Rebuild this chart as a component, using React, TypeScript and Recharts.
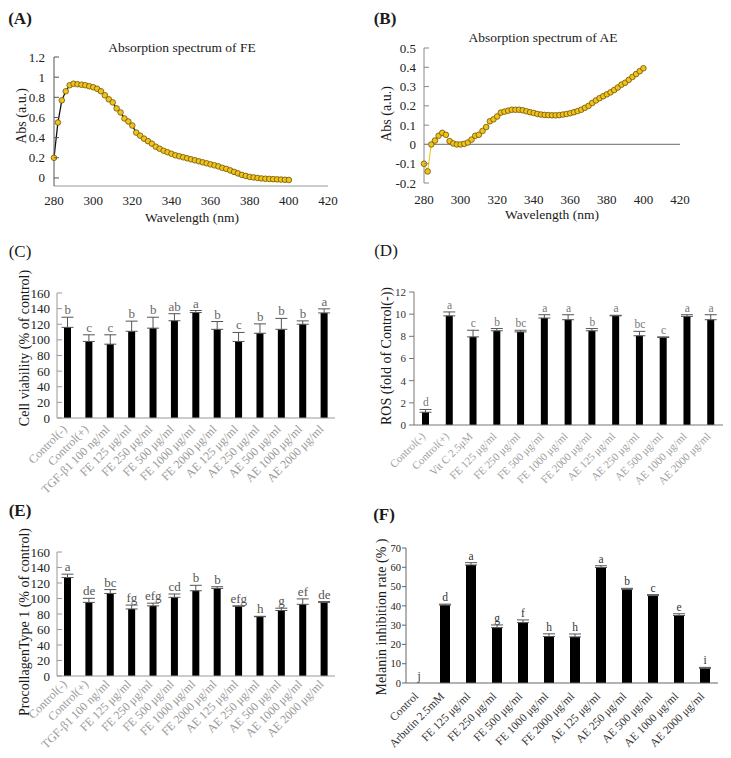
import React from 'react';
import {
  Bar,
  ComposedChart,
  ErrorBar,
  Line,
  LineChart,
  ReferenceLine,
  XAxis,
  YAxis,
} from 'recharts';

const FONT = '"Liberation Serif", "Times New Roman", Times, serif';

// ---- absorption spectra (A, B) ----
const WAVELENGTH = [
  280, 282, 284, 286, 288, 290, 292, 294, 296, 298, 300, 302, 304, 306, 308, 310,
  312, 314, 316, 318, 320, 322, 324, 326, 328, 330, 332, 334, 336, 338, 340, 342,
  344, 346, 348, 350, 352, 354, 356, 358, 360, 362, 364, 366, 368, 370, 372, 374,
  376, 378, 380, 382, 384, 386, 388, 390, 392, 394, 396, 398, 400,
];
const FE_ABS = [
  0.2, 0.55, 0.77, 0.86, 0.92, 0.935, 0.93, 0.925, 0.92, 0.91, 0.9, 0.885, 0.86, 0.82, 0.78, 0.75,
  0.69, 0.65, 0.59, 0.56, 0.52, 0.45, 0.42, 0.39, 0.365, 0.34, 0.31, 0.29, 0.27, 0.255, 0.24, 0.225,
  0.215, 0.205, 0.195, 0.185, 0.175, 0.165, 0.155, 0.145, 0.135, 0.125, 0.115, 0.1, 0.09, 0.075, 0.06, 0.045,
  0.03, 0.02, 0.01, 0.005, 0.0, -0.005, -0.008, -0.01, -0.012, -0.014, -0.016, -0.018, -0.02,
];
const AE_ABS = [
  -0.1, -0.14, 0.0, 0.02, 0.045, 0.06, 0.05, 0.017, 0.005, 0.0, 0.0, 0.003, 0.01, 0.025, 0.045, 0.05,
  0.07, 0.09, 0.12, 0.13, 0.145, 0.165, 0.17, 0.175, 0.18, 0.18, 0.18, 0.177, 0.172, 0.167, 0.163, 0.158,
  0.155, 0.153, 0.152, 0.151, 0.151, 0.152, 0.155, 0.158, 0.162, 0.167, 0.173, 0.18, 0.19, 0.2, 0.215, 0.228,
  0.24, 0.25, 0.26, 0.27, 0.282, 0.295, 0.31, 0.32, 0.335, 0.35, 0.365, 0.38, 0.395,
];
const WL_TICKS = [280, 300, 320, 340, 360, 380, 400, 420];
const FE_TICKS = [0, 0.2, 0.4, 0.6, 0.8, 1, 1.2];
const AE_TICKS = [-0.2, -0.1, 0, 0.1, 0.2, 0.3, 0.4, 0.5];

// ---- cell viability (C) ----
const C_GROUPS = [
  'Control(-)', 'Control(+)', 'TGF-β1 100 ng/ml', 'FE 125 μg/ml', 'FE 250 μg/ml', 'FE 500 μg/ml',
  'FE 1000 μg/ml', 'FE 2000 μg/ml', 'AE 125 μg/ml', 'AE 250 μg/ml', 'AE 500 μg/ml', 'AE 1000 μg/ml',
  'AE 2000 μg/ml',
];
const C_VALUES = [116, 98, 94.5, 111, 115, 124.5, 135, 113.5, 98, 108.5, 113.5, 120, 134.5];
const C_SD = [13, 8.5, 12, 13, 14, 9, 2.6, 10, 11.5, 12, 14, 4.3, 5.2];
const C_LETTERS = ['b', 'c', 'c', 'b', 'b', 'ab', 'a', 'b', 'c', 'b', 'b', 'b', 'a'];
const C_TICKS = [0, 20, 40, 60, 80, 100, 120, 140, 160];

// ---- ROS (D) ----
const D_GROUPS = [
  'Control(-)', 'Control(+)', 'Vit C 2.5μM', 'FE 125 μg/ml', 'FE 250 μg/ml', 'FE 500 μg/ml',
  'FE 1000 μg/ml', 'FE 2000 μg/ml', 'AE 125 μg/ml', 'AE 250 μg/ml', 'AE 500 μg/ml', 'AE 1000 μg/ml',
  'AE 2000 μg/ml',
];
const D_VALUES = [1.15, 9.85, 7.95, 8.5, 8.4, 9.65, 9.5, 8.5, 9.85, 8.05, 7.9, 9.8, 9.5];
const D_SD = [0.25, 0.35, 0.6, 0.2, 0.15, 0.3, 0.45, 0.2, 0.05, 0.4, 0.05, 0.15, 0.45];
const D_LETTERS = ['d', 'a', 'c', 'b', 'bc', 'a', 'a', 'b', 'a', 'bc', 'c', 'a', 'a'];
const D_TICKS = [0, 2, 4, 6, 8, 10, 12];

// ---- procollagen type 1 (E) ----
const E_VALUES = [127, 95, 106.5, 86.5, 90.5, 101.5, 110, 113, 90, 76.5, 84.5, 92.5, 95];
const E_SD = [4.4, 5.2, 5, 5, 3.5, 4.3, 7, 2.2, 0.5, 0.5, 3, 7, 1];
const E_LETTERS = ['a', 'de', 'bc', 'fg', 'efg', 'cd', 'b', 'b', 'efg', 'h', 'g', 'ef', 'de'];

// ---- melanin inhibition (F) ----
const F_GROUPS = [
  'Control', 'Arbutin 2.5mM', 'FE 125 μg/ml', 'FE 250 μg/ml', 'FE 500 μg/ml', 'FE 1000 μg/ml',
  'FE 2000 μg/ml', 'AE 125 μg/ml', 'AE 250 μg/ml', 'AE 500 μg/ml', 'AE 1000 μg/ml', 'AE 2000 μg/ml',
];
const F_VALUES = [0, 40.4, 61.2, 28.7, 31.3, 24.1, 23.9, 59.9, 48.6, 45.3, 35, 7.6];
const F_SD = [0, 0.5, 1.2, 1.4, 1.4, 1.4, 1.5, 0.9, 0.5, 0.5, 0.9, 0.5];
const F_LETTERS = ['j', 'd', 'a', 'g', 'f', 'h', 'h', 'a', 'b', 'c', 'e', 'i'];
const F_TICKS = [0, 10, 20, 30, 40, 50, 60, 70];

type TickStyle = { size: number; color: string; gap: number; inner?: number; outer?: number; line?: string };

const yTick = (s: TickStyle) => (p: any) => (
  <g>
    {s.inner ? <line x1={p.x} x2={p.x + s.inner} y1={p.y} y2={p.y} stroke={s.line} /> : null}
    {s.outer ? <line x1={p.x - s.outer} x2={p.x} y1={p.y} y2={p.y} stroke={s.line} /> : null}
    <text
      x={p.x - s.gap}
      y={p.y + s.size * 0.35}
      textAnchor="end"
      fontSize={s.size}
      fill={s.color}
      fontFamily={FONT}
    >
      {p.payload.value}
    </text>
  </g>
);

const xTick = (size: number, color: string, offset: number) => (p: any) => (
  <text x={p.x} y={p.y + offset} textAnchor="middle" fontSize={size} fill={color} fontFamily={FONT}>
    {p.payload.value}
  </text>
);

const angledTick = (size: number, color: string, offset: number) => (p: any) => {
  const ty = p.y + offset;
  return (
    <text
      x={p.x}
      y={ty}
      transform={`rotate(-45 ${p.x} ${ty})`}
      textAnchor="end"
      fontSize={size}
      fill={color}
      fontFamily={FONT}
    >
      {p.payload.value}
    </text>
  );
};

const letterDot = (size: number, color: string) => (p: any) => (
  <text
    key={`letter-${p.index}`}
    x={p.cx}
    y={p.cy - 3}
    textAnchor="middle"
    fontSize={size}
    fill={color}
    fontFamily={FONT}
  >
    {p.payload.letter}
  </text>
);

const Txt = ({ x, y, size, bold, rotate, children }: any) => (
  <div
    style={{
      position: 'absolute',
      left: x,
      top: y,
      transform: `translate(-50%, -50%)${rotate ? ' rotate(-90deg)' : ''}`,
      fontFamily: FONT,
      fontSize: size,
      fontWeight: bold ? 700 : 400,
      color: '#1a1a1a',
      whiteSpace: 'nowrap',
      lineHeight: 1,
    }}
  >
    {children}
  </div>
);

const DOT = { r: 2.8, fill: '#F0C21C', stroke: '#6e5300', strokeWidth: 0.8 };

const SpectrumFE = () => {
  const rows = WAVELENGTH.map((wl, i) => ({ wl, abs: FE_ABS[i] }));
  return (
    <div style={{ position: 'absolute', left: 0, top: 40 }}>
      <LineChart width={345} height={200} data={rows} margin={{ top: 17, right: 17, left: 4, bottom: 0 }}>
        <XAxis
          type="number"
          dataKey="wl"
          domain={[280, 420]}
          ticks={WL_TICKS}
          interval={0}
          height={54}
          tickLine={false}
          tickSize={0}
          tickMargin={0}
          axisLine={{ stroke: '#999' }}
          tick={xTick(13, '#222', 18.5)}
        />
        <YAxis
          type="number"
          domain={[-0.08, 1.2]}
          allowDataOverflow
          ticks={FE_TICKS}
          interval={0}
          width={50}
          tickLine={false}
          tickSize={0}
          tickMargin={0}
          axisLine={{ stroke: '#555' }}
          tick={yTick({ size: 13, color: '#222', gap: 9, inner: 5, line: '#555' })}
        />
        <Line dataKey="abs" stroke="#111" strokeWidth={1.3} dot={DOT} isAnimationActive={false} />
      </LineChart>
    </div>
  );
};

const SpectrumAE = () => {
  const rows = WAVELENGTH.map((wl, i) => ({ wl, abs: AE_ABS[i] }));
  return (
    <div style={{ position: 'absolute', left: 365, top: 30 }}>
      <LineChart width={335} height={210} data={rows} margin={{ top: 18, right: 20, left: 9, bottom: 0 }}>
        <XAxis
          type="number"
          dataKey="wl"
          domain={[280, 420]}
          ticks={WL_TICKS}
          interval={0}
          height={57}
          tickLine={false}
          tickSize={0}
          tickMargin={0}
          axisLine={false}
          tick={xTick(13, '#222', 20.5)}
        />
        <YAxis
          type="number"
          domain={[-0.2, 0.5]}
          allowDataOverflow
          ticks={AE_TICKS}
          interval={0}
          width={50}
          tickLine={false}
          tickSize={0}
          tickMargin={0}
          axisLine={{ stroke: '#888' }}
          tick={yTick({ size: 13, color: '#222', gap: 8, inner: 5, line: '#888' })}
        />
        <ReferenceLine y={0} stroke="#888" strokeWidth={1.2} />
        <Line dataKey="abs" stroke="#F2C200" strokeWidth={1} dot={DOT} isAnimationActive={false} />
      </LineChart>
    </div>
  );
};

type BarPanelProps = {
  left: number;
  top: number;
  width: number;
  height: number;
  margin: { top: number; right: number; left: number };
  yWidth: number;
  xHeight: number;
  groups: string[];
  values: number[];
  sd: number[];
  letters: string[];
  domain: [number, number];
  ticks: number[];
  barSize: number;
  axisColor: string;
  yStyle: TickStyle;
  xLabel: { size: number; color: string; offset: number };
  letter: { size: number; color: string };
};

const BarPanel = (b: BarPanelProps) => {
  const rows = b.groups.map((name, i) => ({
    name,
    v: b.values[i],
    e: [0, b.sd[i]],
    top: b.values[i] + b.sd[i],
    letter: b.letters[i],
  }));
  return (
    <div style={{ position: 'absolute', left: b.left, top: b.top }}>
      <ComposedChart
        width={b.width}
        height={b.height}
        data={rows}
        margin={{ ...b.margin, bottom: 0 }}
      >
        <XAxis
          dataKey="name"
          interval={0}
          height={b.xHeight}
          tickLine={false}
          tickSize={0}
          tickMargin={0}
          axisLine={{ stroke: b.axisColor }}
          tick={angledTick(b.xLabel.size, b.xLabel.color, b.xLabel.offset)}
        />
        <YAxis
          type="number"
          domain={b.domain}
          allowDataOverflow
          ticks={b.ticks}
          interval={0}
          width={b.yWidth}
          tickLine={false}
          tickSize={0}
          tickMargin={0}
          axisLine={{ stroke: b.axisColor }}
          tick={yTick(b.yStyle)}
        />
        <Bar dataKey="v" fill="#000" barSize={b.barSize} isAnimationActive={false}>
          <ErrorBar dataKey="e" width={6} stroke="#555" strokeWidth={1} direction="y" />
        </Bar>
        <Line
          dataKey="top"
          stroke="none"
          dot={letterDot(b.letter.size, b.letter.color)}
          activeDot={false}
          isAnimationActive={false}
        />
      </ComposedChart>
    </div>
  );
};

export default function App() {
  return (
    <div
      style={{
        position: 'absolute',
        left: 0,
        top: 0,
        width: 731,
        height: 758,
        background: '#fff',
        overflow: 'hidden',
      }}
    >
      <Txt x={20} y={18} size={17} bold>(A)</Txt>
      <Txt x={385} y={18} size={17} bold>(B)</Txt>
      <Txt x={20} y={251} size={17}>(C)</Txt>
      <Txt x={386} y={250} size={17}>(D)</Txt>
      <Txt x={20} y={510} size={17} bold>(E)</Txt>
      <Txt x={384} y={514} size={17} bold>(F)</Txt>

      <SpectrumFE />
      <Txt x={182} y={48} size={13.5}>Absorption spectrum of FE</Txt>
      <Txt x={192} y={218} size={13.5}>Wavelength (nm)</Txt>
      <Txt x={22} y={116} size={14} rotate>Abs (a.u.)</Txt>

      <SpectrumAE />
      <Txt x={543} y={38} size={13.5}>Absorption spectrum of AE</Txt>
      <Txt x={552} y={215} size={13.5}>Wavelength (nm)</Txt>
      <Txt x={387} y={114} size={14} rotate>Abs (a.u.)</Txt>

      <BarPanel
        left={0}
        top={280}
        width={345}
        height={215}
        margin={{ top: 13, right: 10, left: 7 }}
        yWidth={50}
        xHeight={77}
        groups={C_GROUPS}
        values={C_VALUES}
        sd={C_SD}
        letters={C_LETTERS}
        domain={[0, 160]}
        ticks={C_TICKS}
        barSize={7}
        axisColor="#999"
        yStyle={{ size: 13, color: '#222', gap: 7, inner: 5, line: '#999' }}
        xLabel={{ size: 12, color: '#9a9a9a', offset: 12 }}
        letter={{ size: 13, color: '#666' }}
      />
      <Txt x={25} y={348} size={14} rotate>Cell viability (% of control)</Txt>

      <BarPanel
        left={365}
        top={280}
        width={366}
        height={215}
        margin={{ top: 12, right: 8, left: 9 }}
        yWidth={40}
        xHeight={70}
        groups={D_GROUPS}
        values={D_VALUES}
        sd={D_SD}
        letters={D_LETTERS}
        domain={[0, 12]}
        ticks={D_TICKS}
        barSize={7}
        axisColor="#777"
        yStyle={{ size: 11, color: '#333', gap: 8, outer: 5, line: '#777' }}
        xLabel={{ size: 11, color: '#a0a0a0', offset: 12 }}
        letter={{ size: 11.5, color: '#777' }}
      />
      <Txt x={387} y={356} size={14} rotate>ROS (fold of Control(-))</Txt>

      <BarPanel
        left={0}
        top={530}
        width={345}
        height={228}
        margin={{ top: 22, right: 10, left: 7 }}
        yWidth={50}
        xHeight={82}
        groups={C_GROUPS}
        values={E_VALUES}
        sd={E_SD}
        letters={E_LETTERS}
        domain={[0, 160]}
        ticks={C_TICKS}
        barSize={7}
        axisColor="#999"
        yStyle={{ size: 13, color: '#222', gap: 7, inner: 5, line: '#999' }}
        xLabel={{ size: 12, color: '#9a9a9a', offset: 9 }}
        letter={{ size: 13, color: '#555' }}
      />
      <Txt x={25} y={622} size={14} rotate>ProcollagenType 1 (% of control)</Txt>

      <BarPanel
        left={365}
        top={530}
        width={366}
        height={228}
        margin={{ top: 18, right: 13, left: 6 }}
        yWidth={35}
        xHeight={75}
        groups={F_GROUPS}
        values={F_VALUES}
        sd={F_SD}
        letters={F_LETTERS}
        domain={[0, 70]}
        ticks={F_TICKS}
        barSize={10}
        axisColor="#666"
        yStyle={{ size: 10.5, color: '#222', gap: 5, outer: 4, line: '#666' }}
        xLabel={{ size: 11.5, color: '#333', offset: 14 }}
        letter={{ size: 11.5, color: '#333' }}
      />
      <Txt x={382} y={617} size={14} rotate>Melanin inhibition rate (% )</Txt>
    </div>
  );
}
